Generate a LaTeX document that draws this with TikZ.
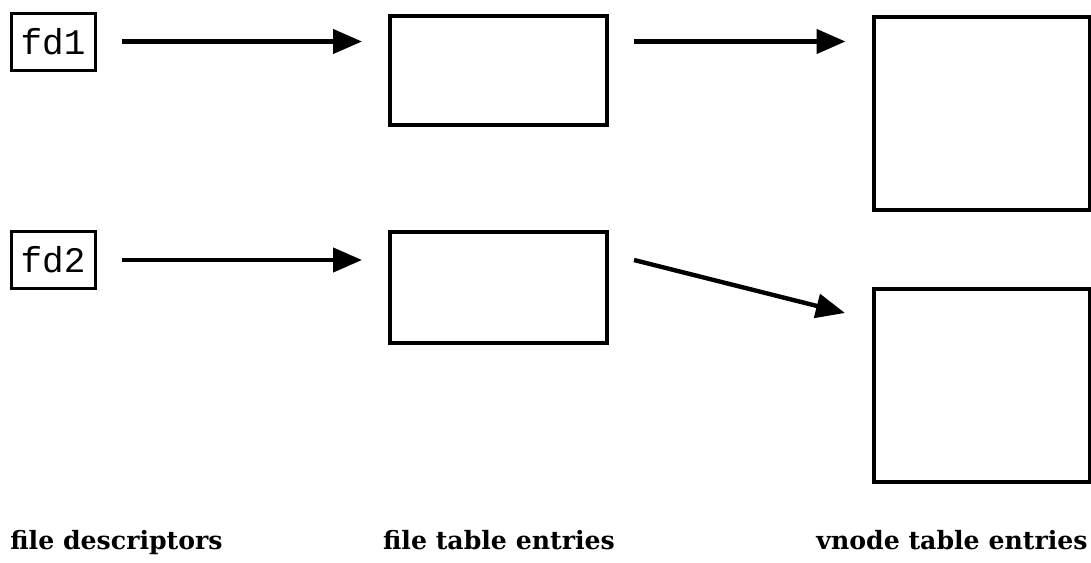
\documentclass[tikz,border=0pt]{standalone}
\usepackage{fontspec}
\newfontfamily\captionfont{DejaVu Serif}
\newfontfamily\fdfont{Liberation Mono}
\usetikzlibrary{arrows.meta}

\begin{document}
\begin{tikzpicture}[x=0.5pt, y=-0.5pt, >={Triangle[length=14.5pt,width=12pt]},
  entry/.style={draw, line width=2pt, inner sep=0pt},
  fdbox/.style={draw, line width=1.5pt, minimum width=42pt, minimum height=28.5pt,
    inner sep=0pt, font=\fdfont\fontsize{18}{18}\selectfont},
  link/.style={->, line width=2.2pt, shorten <=12.5pt, shorten >=13pt},
  colname/.style={inner sep=0pt,
    font=\captionfont\bfseries\fontsize{12.6}{14}\selectfont}]
\useasboundingbox (0,0) rectangle (1091,562);

% descriptors
\node[fdbox] (fd1) at (53,41.5) {fd1};
\node[fdbox] (fd2) at (53,260) {fd2};

% file table
\node[entry, minimum width=108.5pt, minimum height=54.5pt] (ft1) at (498.5,70.5) {};
\node[entry, minimum width=108.5pt, minimum height=55.5pt] (ft2) at (498.5,287.5) {};

% vnode table
\node[entry, minimum width=108pt, minimum height=96.5pt] (vn1) at (981.5,113.5) {};
\node[entry, minimum width=108pt, minimum height=96.5pt] (vn2) at (982,385.5) {};

\draw[link] (fd1) -- (fd1 -| ft1.west);
\draw[link] (fd2) -- (fd2 -| ft2.west);
\draw[link] (ft1.east |- fd1) -- (vn1.west |- fd1);
\draw[link, shorten <=0pt, shorten >=0pt]
  ([xshift=12.5pt,yshift=-15pt]ft2.north east) -- ([xshift=-13.5pt,yshift=-13pt]vn2.north west);

% column names
\node[colname, anchor=base west] (fdname) at (10,549) {file descriptors};
\node[colname, anchor=base] (ftname) at (499,549) {file table entries};
\node[colname, anchor=base east] (vnname) at (1088,549) {vnode table entries};
\end{tikzpicture}
\end{document}
